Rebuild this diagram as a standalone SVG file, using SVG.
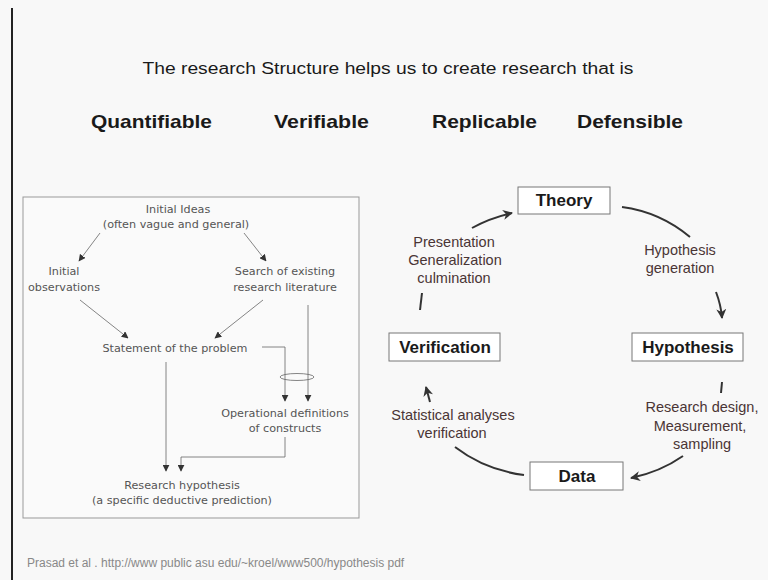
<svg xmlns="http://www.w3.org/2000/svg" width="768" height="580" viewBox="0 0 768 580">
<defs>
<style>
.title{font-family:"Liberation Sans",Arial,sans-serif;font-size:16px;fill:#1a1a1a}
.big{font-family:"Liberation Sans",Arial,sans-serif;font-size:19px;font-weight:bold;fill:#1a1a1a}
.sm{font-family:"DejaVu Sans","Liberation Sans",sans-serif;font-size:11.2px;fill:#555}
.nb{fill:#fff;stroke:#777;stroke-width:1}
.nt{font-family:"Liberation Sans",Arial,sans-serif;font-size:17px;font-weight:bold;fill:#1a1a1a;text-anchor:middle}
.lb{font-family:"Liberation Sans",Arial,sans-serif;font-size:14.5px;fill:#4a3535;text-anchor:middle}
.thin{fill:none;stroke:#666;stroke-width:0.8}
.thick{fill:none;stroke:#333;stroke-width:2}
</style>
<marker id="ah" viewBox="0 0 10 10" refX="9" refY="5" markerWidth="7" markerHeight="7" orient="auto" markerUnits="userSpaceOnUse">
<path d="M0,0 L10,5 L0,10 z" fill="#333"/>
</marker>
<marker id="ab" viewBox="0 0 10 10" refX="9" refY="5" markerWidth="10" markerHeight="10" orient="auto" markerUnits="userSpaceOnUse">
<path d="M0,0 L10,5 L0,10 L3,5 z" fill="#333"/>
</marker>
</defs>
<rect width="768" height="580" fill="#f8f8f8"/>
<line x1="12" y1="8" x2="12" y2="580" stroke="#222" stroke-width="2"/>

<text class="title" x="388" y="74" text-anchor="middle" textLength="491" lengthAdjust="spacingAndGlyphs">The research  Structure helps us to create research  that is</text>
<text class="big" x="91" y="128" textLength="121" lengthAdjust="spacingAndGlyphs">Quantifiable</text>
<text class="big" x="274" y="128" textLength="95" lengthAdjust="spacingAndGlyphs">Verifiable</text>
<text class="big" x="432" y="128" textLength="105" lengthAdjust="spacingAndGlyphs">Replicable</text>
<text class="big" x="577" y="128" textLength="106" lengthAdjust="spacingAndGlyphs">Defensible</text>

<g id="left-panel">
<rect x="23" y="197" width="336" height="321" fill="#fafafa" stroke="#999" stroke-width="1"/>
<g id="n-ideas"><text class="sm" x="178" y="213" text-anchor="middle">Initial Ideas</text><text class="sm" x="176" y="228" text-anchor="middle">(often vague and general)</text></g>
<g id="n-obs"><text class="sm" x="64" y="275" text-anchor="middle">Initial</text><text class="sm" x="64" y="291" text-anchor="middle">observations</text></g>
<g id="n-search"><text class="sm" x="285" y="275" text-anchor="middle">Search of existing</text><text class="sm" x="285" y="291" text-anchor="middle">research literature</text></g>
<g id="n-statement"><text class="sm" x="175" y="352" text-anchor="middle">Statement of the problem</text></g>
<g id="n-oper"><text class="sm" x="285" y="417" text-anchor="middle">Operational definitions</text><text class="sm" x="285" y="432" text-anchor="middle">of constructs</text></g>
<g id="n-hyp"><text class="sm" x="182" y="489" text-anchor="middle">Research hypothesis</text><text class="sm" x="182" y="504" text-anchor="middle">(a specific deductive prediction)</text></g>
<g id="left-connectors">
<line class="thin" x1="100" y1="233" x2="79" y2="261" marker-end="url(#ah)"/>
<line class="thin" x1="244" y1="233" x2="266" y2="261" marker-end="url(#ah)"/>
<line class="thin" x1="80" y1="300" x2="128" y2="338" marker-end="url(#ah)"/>
<line class="thin" x1="263" y1="300" x2="215" y2="338" marker-end="url(#ah)"/>
<line class="thin" x1="308" y1="305" x2="308" y2="401" marker-end="url(#ah)"/>
<path class="thin" d="M262,347 H285 V401" marker-end="url(#ah)"/>
<ellipse cx="297" cy="377" rx="17" ry="3.5" fill="none" stroke="#666" stroke-width="0.8"/>
<line class="thin" x1="166" y1="362" x2="166" y2="471" marker-end="url(#ah)"/>
<path class="thin" d="M285,437 V457 H181 V471" marker-end="url(#ah)"/>
</g>
</g>

<g id="cycle-connectors">
<path class="thick" d="M420,310 L422,293"/>
<path class="thick" d="M472,228 Q490,218 512,213" marker-end="url(#ab)"/>
<path class="thick" d="M622,207 Q660,212 690,237"/>
<path class="thick" d="M716,292 Q721,305 722,318" marker-end="url(#ab)"/>
<path class="thick" d="M722,382 L721,393"/>
<path class="thick" d="M683,456 Q660,472 631,478" marker-end="url(#ab)"/>
<path class="thick" d="M524,475 Q485,470 455,447"/>
<path class="thick" d="M430,402 L426,387" marker-end="url(#ab)"/>
</g>
<g id="n-theory"><rect class="nb" x="518" y="187" width="92" height="27"/><text class="nt" x="564" y="206">Theory</text></g>
<g id="n-hypothesis"><rect class="nb" x="632" y="333" width="111" height="28"/><text class="nt" x="688" y="353">Hypothesis</text></g>
<g id="n-verification"><rect class="nb" x="389" y="333" width="111" height="28"/><text class="nt" x="445" y="353">Verification</text></g>
<g id="n-data"><rect class="nb" x="530" y="462" width="93" height="28"/><text class="nt" x="577" y="482">Data</text></g>
<g id="labels">
<text class="lb" x="454" y="247">Presentation</text>
<text class="lb" x="455" y="265">Generalization</text>
<text class="lb" x="454" y="283">culmination</text>
<text class="lb" x="680" y="255">Hypothesis</text>
<text class="lb" x="680" y="273">generation</text>
<text class="lb" x="453" y="420">Statistical analyses</text>
<text class="lb" x="452" y="438">verification</text>
<text class="lb" x="702" y="412">Research design,</text>
<text class="lb" x="700" y="431">Measurement,</text>
<text class="lb" x="702" y="449">sampling</text>
</g>
<text x="27" y="567" font-family="Liberation Sans,Arial,sans-serif" font-size="12" fill="#888">Prasad et al .  http://www public asu edu/~kroel/www500/hypothesis pdf</text>
</svg>
